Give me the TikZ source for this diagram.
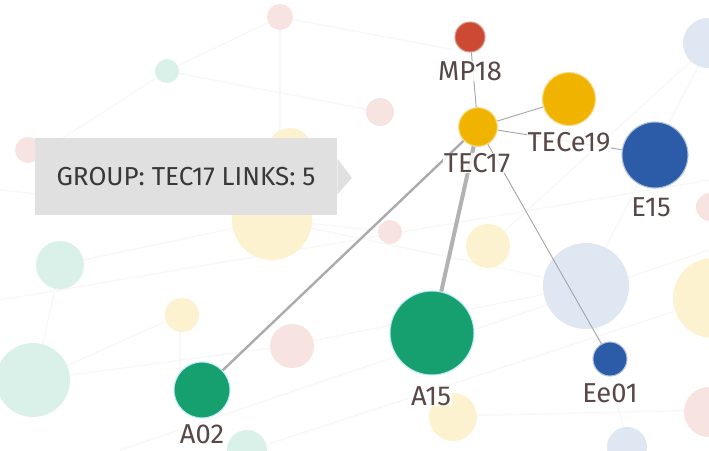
\documentclass[tikz,border=0pt]{standalone}
\usepackage{fontspec}
\setmainfont{Fira Sans}
\usetikzlibrary{positioning}
\definecolor{nodered}{RGB}{204,74,52}
\definecolor{nodeyellow}{RGB}{240,180,0}
\definecolor{nodeblue}{RGB}{44,92,168}
\definecolor{nodegreen}{RGB}{22,160,112}
\definecolor{labeltext}{RGB}{88,72,72}
\definecolor{ghostpink}{RGB}{247,227,223}
\definecolor{ghostteal}{RGB}{218,241,233}
\definecolor{ghostyellow}{RGB}{253,242,207}
\definecolor{ghostblue}{RGB}{223,231,242}
\definecolor{tipgray}{RGB}{224,224,224}

\begin{document}
\begin{tikzpicture}[x=0.75pt, y=-0.75pt,
    grp/.style={circle, inner sep=0pt, line width=0.8pt},
    link/.style={draw=black!35, line width=0.7pt},
    ghostlink/.style={draw=black!3, line width=1pt},
    lbl/.style={font=\fontsize{20.5}{22}\selectfont, text=labeltext, inner sep=0.5pt,
                fill=white, fill opacity=0.85, text opacity=1},
    tip/.style={fill=tipgray, inner sep=0pt, minimum width=226.5pt, minimum height=57.75pt,
                font=\fontsize{19.5}{21}\selectfont, text=black!78}
  ]
  \clip (0,0) rectangle (709,450);

  % ================= faded background graph =================
  \draw[ghostlink] (280,17) -- (455,50);
  \draw[ghostlink] (280,17) -- (280,140);
  \draw[ghostlink] (167,71) -- (280,17);
  \draw[ghostlink] (167,71) -- (60,140);
  \draw[ghostlink] (167,71) -- (380,112);
  \draw[ghostlink] (60,265) -- (272,220);
  \draw[ghostlink] (60,265) -- (35,380);
  \draw[ghostlink] (35,380) -- (292,345);
  \draw[ghostlink] (35,380) -- (180,315);
  \draw[ghostlink] (180,315) -- (180,370);
  \draw[ghostlink] (272,220) -- (586,286);
  \draw[ghostlink] (292,345) -- (586,286);
  \draw[ghostlink] (0,300) -- (709,180);
  \draw[ghostlink] (120,450) -- (709,250);
  \draw[ghostlink] (250,450) -- (709,300);
  \draw[ghostlink] (586,286) -- (709,45);
  \draw[ghostlink] (489,245) -- (709,45);
  \draw[ghostlink] (454,416) -- (709,410);
  \draw[ghostlink] (586,286) -- (628,445);
  \draw[ghostlink] (390,232) -- (0,190);

  \fill[ghostpink]   (280,17)  circle (13);
  \fill[ghostteal]   (167,71)  circle (12);
  \fill[ghostpink]   (380,112) circle (14);
  \fill[ghostyellow] (290,150) circle (22);
  \fill[ghostpink]   (28,150)  circle (13);
  \fill[ghostyellow] (272,220) circle (40);
  \fill[ghostteal]   (60,265)  circle (24);
  \fill[ghostyellow] (182,315) circle (17);
  \fill[ghostpink]   (292,346) circle (22);
  \fill[ghostteal]   (33,380)  circle (37);
  \fill[ghostteal]   (247,450) circle (20);
  \fill[ghostpink]   (390,232) circle (12);
  \fill[ghostyellow] (488,246) circle (22);
  \fill[ghostyellow] (453,417) circle (24);
  \fill[ghostblue]   (586,286) circle (43);
  \fill[ghostyellow] (713,298) circle (40);
  \fill[ghostpink]   (709,412) circle (25);
  \fill[ghostblue]   (627,447) circle (20);
  \fill[ghostblue]   (708,43)  circle (25);
  \fill[ghostpink]   (710,207) circle (14);

  % ================= highlighted group =================
  \node[grp, fill=nodered,    draw=nodered!60,    minimum size=22.5pt] (mp18)   at (470,37)  {};
  \node[grp, fill=nodeyellow, draw=nodeyellow!50, minimum size=29pt]   (tec17)  at (478,127) {};
  \node[grp, fill=nodeyellow, draw=nodeyellow!50, minimum size=39.75pt] (tece19) at (569,99)  {};
  \node[grp, fill=nodeblue,   draw=nodeblue!40,   minimum size=49.5pt] (e15)    at (655,155) {};
  \node[grp, fill=nodegreen,  draw=cyan!25,       minimum size=63pt]   (a15)    at (432,333) {};
  \node[grp, fill=nodeblue,   draw=nodeblue!40,   minimum size=25.5pt] (ee01)   at (610,359) {};
  \node[grp, fill=nodegreen,  draw=cyan!25,       minimum size=42pt]   (a02)    at (202,390) {};

  % links of TEC17
  \draw[link] (tec17) -- (mp18);
  \draw[link] (tec17) -- (tece19);
  \draw[link] (tec17) -- (e15);
  \draw[link] (tec17) -- (ee01);
  \draw[link, draw=black!33, line width=1.8pt] (tec17) -- (a02);
  \draw[link, draw=black!30, line width=3pt]   (tec17) -- (a15);

  % labels
  \node[lbl] (mp18l)   at (470,71)  {MP18};
  \node[lbl] (tec17l)  at (477,163) {TEC17};
  \node[lbl] (tece19l) at (569,142) {TECe19};
  \node[lbl] (e15l)    at (651,207) {E15};
  \node[lbl] (a15l)    at (431,396) {A15};
  \node[lbl] (ee01l)   at (610,393) {Ee01};
  \node[lbl] (a02l)    at (202,434) {A02};

  % ================= tooltip =================
  \node[tip] (info) at (186,176.5) {GROUP: TEC17 LINKS: 5};
  \fill[tipgray] ([yshift=13.5pt]info.east) -- ([xshift=11pt,yshift=-1pt]info.east)
    -- ([yshift=-13.5pt]info.east) -- cycle;
\end{tikzpicture}
\end{document}
